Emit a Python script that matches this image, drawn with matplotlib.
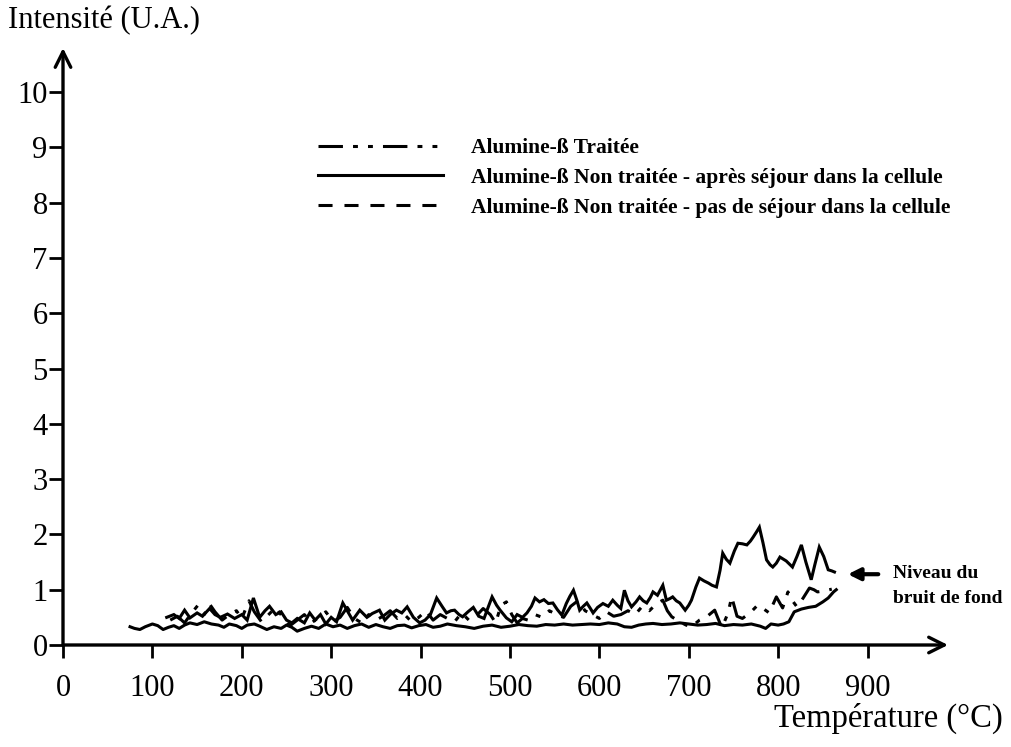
import matplotlib
matplotlib.use("Agg")
import matplotlib.pyplot as plt
from matplotlib.lines import Line2D

plt.rcParams['font.family'] = ['Liberation Serif', 'DejaVu Serif']

# Alumine-ß non traitée, après séjour dans la cellule (courbe supérieure)
temp_apres = [116, 124, 130, 136, 142, 150, 156, 164, 170, 176, 184, 192, 200, 206,
              213, 220, 226, 231, 238, 244, 250, 256, 262, 270, 276, 282, 288, 294,
              300, 306, 313, 318, 324, 332, 340, 346, 354, 360, 366, 373, 379, 385,
              392, 399, 405, 411, 418, 424, 429, 434, 438, 443, 447, 453, 459, 465,
              471, 476, 480, 485, 489, 496, 502, 508, 514, 519, 524, 528, 533, 538,
              543, 548, 553, 558, 563, 567, 571, 575, 578, 582, 586, 590, 593, 598,
              604, 610, 615, 620, 624, 628, 632, 636, 641, 645, 649, 653, 657, 660,
              665, 671, 675, 679, 682, 686, 690, 696, 700, 703, 708, 712, 717, 722,
              726, 731, 735, 738, 742, 746, 751, 755, 760, 765, 769, 772, 776, 779,
              783, 787, 791, 794, 798, 802, 809, 816, 821, 826, 831, 837, 841, 846,
              851, 856, 860, 863]
int_apres = [0.50, 0.55, 0.48, 0.63, 0.49, 0.58, 0.52, 0.66, 0.55, 0.50, 0.56, 0.48, 0.55, 0.45,
             0.85, 0.50, 0.62, 0.70, 0.55, 0.60, 0.45, 0.40, 0.48, 0.40, 0.58, 0.45, 0.55, 0.38,
             0.50, 0.42, 0.76, 0.62, 0.45, 0.63, 0.50, 0.57, 0.63, 0.45, 0.55, 0.63, 0.58, 0.69,
             0.50, 0.40, 0.45, 0.55, 0.85, 0.70, 0.58, 0.62, 0.63, 0.55, 0.51, 0.60, 0.68, 0.52,
             0.48, 0.70, 0.87, 0.72, 0.63, 0.49, 0.42, 0.55, 0.50, 0.58, 0.70, 0.85, 0.78, 0.82,
             0.75, 0.76, 0.64, 0.54, 0.75, 0.88, 0.99, 0.80, 0.63, 0.70, 0.76, 0.66, 0.58, 0.68,
             0.75, 0.70, 0.81, 0.72, 0.66, 0.99, 0.80, 0.69, 0.78, 0.87, 0.80, 0.76, 0.86, 0.96,
             0.90, 1.08, 0.81, 0.84, 0.87, 0.80, 0.76, 0.63, 0.72, 0.81, 1.05, 1.21, 1.16, 1.12,
             1.08, 1.05, 1.35, 1.66, 1.55, 1.48, 1.70, 1.84, 1.83, 1.81, 1.88, 1.95, 2.05, 2.13,
             1.85, 1.54, 1.45, 1.41, 1.48, 1.59, 1.52, 1.41, 1.60, 1.81, 1.50, 1.18, 1.45, 1.77,
             1.60, 1.36, 1.34, 1.32]

# Alumine-ß non traitée, pas de séjour dans la cellule (ligne de base)
temp_sans = [75, 80, 86, 92, 100, 106, 112, 118, 124, 130, 136, 142, 150, 158, 166, 174,
             180, 186, 194, 200, 206, 214, 220, 228, 236, 244, 250, 256, 262, 270, 278, 286,
             294, 302, 310, 318, 326, 334, 342, 350, 358, 366, 374, 382, 390, 398, 406, 414,
             422, 430, 440, 450, 460, 470, 480, 490, 500, 510, 520, 530, 540, 550, 560, 570,
             580, 590, 600, 610, 620, 628, 636, 644, 652, 660, 670, 680, 690, 700, 710, 720,
             730, 740, 750, 760, 770, 780, 786, 792, 800, 806, 812, 818, 826, 834, 842, 850,
             856, 862, 865]
int_sans = [0.33, 0.30, 0.28, 0.33, 0.38, 0.35, 0.28, 0.32, 0.35, 0.30, 0.36, 0.40, 0.37, 0.42, 0.38, 0.36,
            0.32, 0.38, 0.35, 0.30, 0.36, 0.38, 0.34, 0.28, 0.33, 0.30, 0.36, 0.32, 0.25, 0.30, 0.34, 0.30,
            0.38, 0.33, 0.36, 0.30, 0.35, 0.38, 0.32, 0.37, 0.33, 0.30, 0.35, 0.36, 0.31, 0.35, 0.37, 0.32,
            0.34, 0.38, 0.35, 0.33, 0.30, 0.34, 0.36, 0.32, 0.34, 0.37, 0.35, 0.34, 0.37, 0.36, 0.38, 0.36,
            0.37, 0.38, 0.37, 0.40, 0.38, 0.33, 0.32, 0.36, 0.38, 0.39, 0.37, 0.38, 0.40, 0.38, 0.36, 0.37,
            0.39, 0.35, 0.37, 0.36, 0.38, 0.34, 0.30, 0.38, 0.36, 0.38, 0.42, 0.60, 0.65, 0.68, 0.70, 0.78,
            0.85, 0.96, 1.00]

# Alumine-ß traitée
temp_traitee = [120, 128, 136, 144, 151, 158, 164, 170, 178, 186, 194, 200, 208, 214, 222, 230,
                238, 246, 254, 262, 270, 278, 286, 294, 302, 310, 318, 326, 334, 342, 350, 358,
                366, 374, 382, 390, 398, 406, 414, 422, 430, 438, 446, 454, 462, 470, 478, 484,
                490, 496, 502, 508, 514, 520, 528, 536, 544, 552, 560, 568, 576, 584, 592, 600,
                608, 616, 624, 632, 640, 648, 656, 664, 671, 676, 681, 690, 697, 703, 712, 720,
                729, 737, 744, 748, 754, 760, 765, 771, 777, 784, 790, 798, 805, 811, 816, 821,
                828, 835, 840, 844, 852, 860]
int_traitee = [0.45, 0.52, 0.40, 0.58, 0.72, 0.55, 0.74, 0.60, 0.45, 0.55, 0.62, 0.48, 0.80, 0.60, 0.42, 0.55,
               0.68, 0.50, 0.35, 0.45, 0.55, 0.40, 0.50, 0.60, 0.42, 0.50, 0.68, 0.48, 0.40, 0.55, 0.45, 0.52,
               0.62, 0.48, 0.55, 0.42, 0.50, 0.62, 0.45, 0.55, 0.48, 0.42, 0.58, 0.45, 0.52, 0.66, 0.55, 0.40,
               0.72, 0.78, 0.55, 0.40, 0.48, 0.45, 0.55, 0.50, 0.62, 0.55, 0.50, 0.70, 0.80, 0.62, 0.55, 0.48,
               0.60, 0.52, 0.55, 0.62, 0.55, 0.70, 0.62, 0.75, 0.81, 0.62, 0.51, 0.42, 0.36, 0.33, 0.45, 0.51,
               0.63, 0.31, 0.58, 0.87, 0.52, 0.48, 0.54, 0.62, 0.72, 0.65, 0.58, 0.87, 0.67, 0.96, 0.80, 0.69,
               0.85, 1.03, 1.00, 0.96, 0.98, 1.01]

x_ticks = [0, 100, 200, 300, 400, 500, 600, 700, 800, 900]
y_ticks = [0, 1, 2, 3, 4, 5, 6, 7, 8, 9, 10]

labels = ['Alumine-ß Traitée',
          'Alumine-ß Non traitée - après séjour dans la cellule',
          'Alumine-ß Non traitée - pas de séjour dans la cellule']

style_traitee = (0, (8, 3.3, 1.6, 3.3, 1.6, 3.3))
style_sans = (0, (4.6, 3.9))
lw = 2.2

fig = plt.figure(figsize=(10.11, 7.47), dpi=100)
ax = fig.add_axes([63 / 1011, 102 / 747, 885 / 1011, 597 / 747])
ax.set_xlim(0, 990)
ax.set_ylim(0, 597 / 55.3)

ax.plot(temp_sans, int_sans, color='black', lw=lw, solid_joinstyle='round')
ax.plot(temp_apres, int_apres, color='black', lw=lw, solid_joinstyle='miter')
ax.plot(temp_traitee, int_traitee, color='black', lw=lw, linestyle=style_traitee)

# axes drawn as arrows
for s in ax.spines.values():
    s.set_visible(False)
ax.annotate('', xy=(1.0, 0), xytext=(0, 0), xycoords='axes fraction',
            arrowprops=dict(arrowstyle='->', lw=2.4, color='black',
                            mutation_scale=28, shrinkA=0, shrinkB=0))
ax.annotate('', xy=(0, 1.0), xytext=(0, 0), xycoords='axes fraction',
            arrowprops=dict(arrowstyle='->', lw=2.4, color='black',
                            mutation_scale=28, shrinkA=0, shrinkB=0))

ax.set_xticks(x_ticks)
ax.set_yticks(y_ticks)
ax.set_xticklabels([str(v) for v in x_ticks])
ax.set_yticklabels([str(v) for v in y_ticks])
ax.tick_params(axis='x', direction='out', length=9, width=2, pad=12, labelsize=22)
ax.tick_params(axis='y', direction='out', length=10, width=2, pad=1, labelsize=22)

fig.text(8 / 1011, 1 - 6 / 747, 'Intensité (U.A.)', fontsize=22, ha='left', va='top')
fig.text(1003 / 1011, 1 - 718 / 747, 'Température (°C)', fontsize=23.5, ha='right', va='center')

handles = [Line2D([], [], color='black', lw=lw, linestyle=style_traitee),
           Line2D([], [], color='black', lw=lw, linestyle='-'),
           Line2D([], [], color='black', lw=lw, linestyle=style_sans)]
fig.legend(handles, labels, loc='upper left', bbox_to_anchor=(318 / 1011, 1 - 138 / 747),
           frameon=False, borderpad=0, borderaxespad=0, handlelength=5.8,
           handletextpad=1.3, labelspacing=0.45,
           prop={'family': 'Liberation Serif', 'size': 15.5, 'weight': 'bold'})

# niveau du bruit de fond
ax.annotate('', xy=(878, 1.28), xytext=(912, 1.28), xycoords='data',
            arrowprops=dict(arrowstyle='-|>', lw=3, color='black',
                            mutation_scale=18, shrinkA=0, shrinkB=0))
ax.text(929, 1.30, 'Niveau du', fontsize=14, fontweight='bold', ha='left', va='center')
ax.text(929, 0.84, 'bruit de fond', fontsize=14, fontweight='bold', ha='left', va='center')

fig.savefig('out.png', dpi=100)
